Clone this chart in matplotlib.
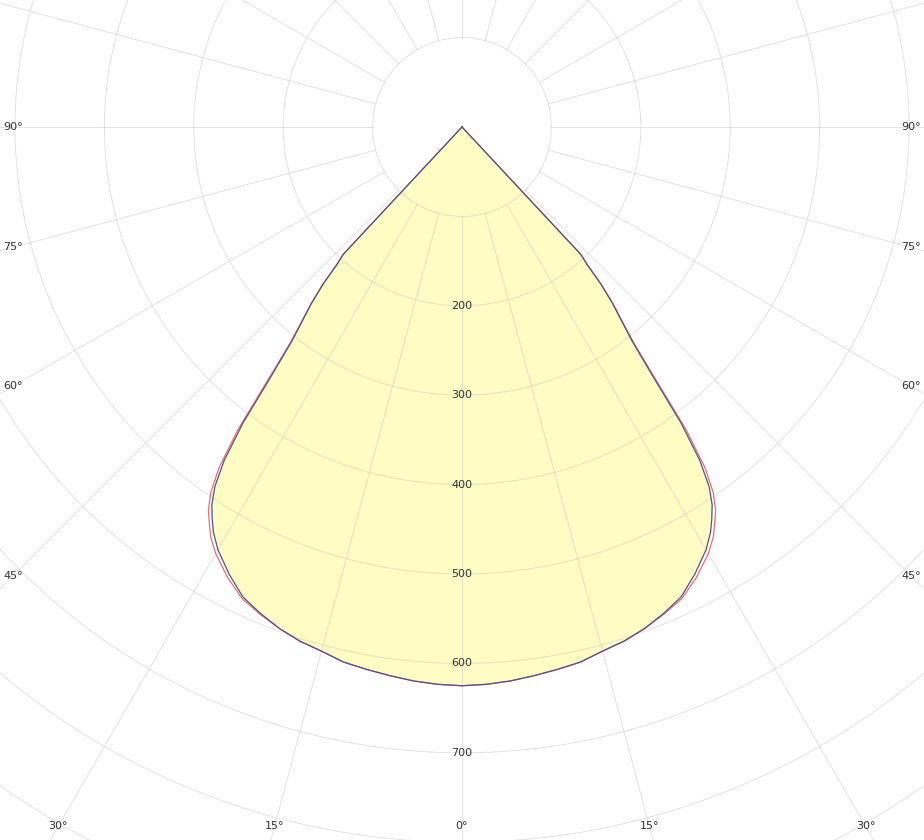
import numpy as np
import matplotlib
matplotlib.use("Agg")
import matplotlib.pyplot as plt

# ---- data (luminous intensity, cd/klm, vs. gamma angle in degrees) ----
angles = [0, 2.5, 5, 7.5, 10, 12.5, 15, 17.5, 20, 22.5, 25, 27.5, 30, 31.5, 32.5,
          33.5, 34.5, 35.5, 36.5, 37.5, 38.5, 39.5, 40.5, 41.5, 42.3, 43, 45, 50,
          60, 70, 80, 90]
c90_270 = [625, 624, 622, 619, 616, 613, 607, 603, 597, 589, 580, 564, 546, 532, 520,
           507, 488, 458, 412, 348, 305, 280, 259, 234, 208, 195, 0, 0,
           0, 0, 0, 0]
c0_180 = [625, 624, 622, 619, 616, 613, 607, 603, 597, 590, 582, 568, 551, 538, 526,
          514, 496, 468, 422, 356, 309, 282, 260, 235, 208, 195, 0, 0,
          0, 0, 0, 0]

ring_values = [100, 200, 300, 400, 500, 600, 700, 800, 900, 1000]
ring_labels = ["200", "300", "400", "500", "600", "700"]
spoke_angles = list(range(0, 360, 15))
angle_labels = [0, 15, 30, 45, 60, 75, 90]

# ---- figure ----
W, H = 924, 840
S = 0.894          # px per cd/klm
CX, CY = 462, 127  # pixel position of the origin
fig = plt.figure(figsize=(W / 100, H / 100), dpi=100)
ax = fig.add_axes([0, 0, 1, 1])
ax.set_xlim(-CX / S, (W - CX) / S)
ax.set_ylim(-(H - CY) / S, CY / S)
ax.set_aspect("equal")
ax.axis("off")

grid_col = "#c8c8c8"
grid_alpha = 0.5

# rings
t = np.linspace(0, 2 * np.pi, 721)
for r in ring_values:
    ax.plot(r * np.sin(t), r * np.cos(t), color=grid_col, lw=0.7, zorder=2,
            alpha=grid_alpha)

# spokes (start at the first ring)
for a in spoke_angles:
    ar = np.radians(a)
    ax.plot([100 * np.sin(ar), 1200 * np.sin(ar)],
            [-100 * np.cos(ar), -1200 * np.cos(ar)],
            color=grid_col, lw=0.7, zorder=2, alpha=grid_alpha)


def to_xy(ang, vals, side):
    a = np.radians(np.asarray(ang, float))
    v = np.asarray(vals, float)
    return side * v * np.sin(a), -v * np.cos(a)


def full_curve(vals):
    xr, yr = to_xy(angles, vals, 1)
    xl, yl = to_xy(angles, vals, -1)
    x = np.concatenate([xl[::-1], xr])
    y = np.concatenate([yl[::-1], yr])
    return x, y

xf, yf = full_curve(c90_270)
ax.fill(xf, yf, color="#fffcc4", zorder=1, lw=0)

xa, ya = full_curve(c0_180)
ax.plot(xa, ya, color="#e27070", lw=0.9, zorder=3)
xb, yb = full_curve(c90_270)
ax.plot(xb, yb, color="#54508a", lw=0.9, zorder=4)

# ring labels along the 0° spoke
for lab in ring_labels:
    v = float(lab)
    ax.text(0, -v, lab, ha="center", va="center", fontsize=8,
            color="#333333", zorder=5)

# angle labels at the inset frame
inset_x = 13
inset_y = 826
for a in angle_labels:
    ar = np.radians(a)
    dy_b = inset_y - CY
    dx_b = np.tan(ar) * dy_b if a < 90 else 1e9
    for side in ([1] if a == 0 else [-1, 1]):
        if dx_b <= CX - inset_x:
            px = CX + side * dx_b
            py = inset_y
        else:
            dx = CX - inset_x
            py = CY + dx / np.tan(ar) if a < 90 else CY
            px = CX + side * dx
        ax.text((px - CX) / S, -(py - CY) / S, f"{a}°", ha="center",
                va="center", fontsize=8, color="#333333", zorder=5)

fig.savefig("out.png", dpi=100)
